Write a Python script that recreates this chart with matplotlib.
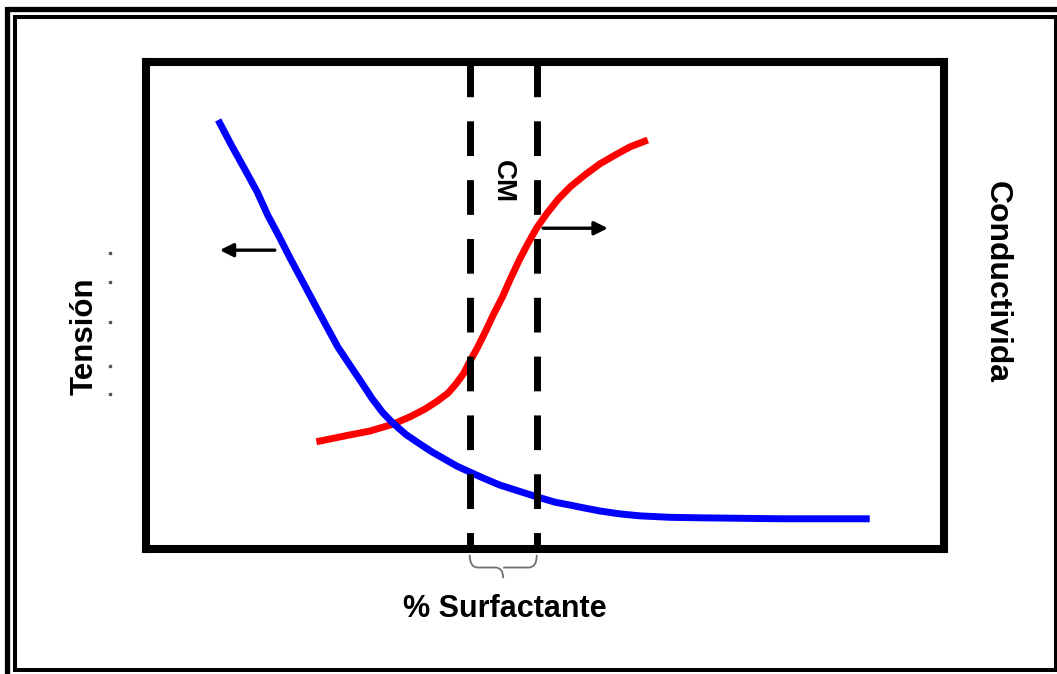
import matplotlib
matplotlib.use("Agg")
import matplotlib.pyplot as plt
from matplotlib.patches import Rectangle, PathPatch
from matplotlib.path import Path

# data (arbitrary units, 0-100 on both axes)
blue_x = [9.1, 10.8, 12.5, 14.0, 15.3, 16.7, 18.1, 19.5, 20.9, 22.5,
          24.1, 25.6, 27.0, 28.4, 29.7, 31.0, 32.6, 34.4, 35.9, 37.5,
          39.0, 40.6, 42.5, 44.4, 46.7, 49.0, 51.3, 53.2, 55.0, 56.9,
          59.4, 61.9, 65.7, 69.4, 79.5, 90.7]
blue_y = [88.0, 82.7, 77.7, 73.2, 68.5, 64.2, 59.7, 55.4, 51.1, 46.2,
          41.4, 37.7, 34.3, 30.8, 28.0, 25.8, 23.5, 21.5, 19.9, 18.4,
          17.0, 15.8, 14.4, 13.1, 11.9, 10.7, 9.6, 9.0, 8.4, 7.8,
          7.2, 6.8, 6.5, 6.4, 6.2, 6.2]

red_x = [21.4, 25.6, 28.1, 31.0, 33.1, 35.0, 36.6, 37.9, 38.9, 39.8,
         40.6, 41.6, 42.6, 43.6, 44.7, 45.7, 46.7, 47.8, 49.0, 50.3,
         51.7, 53.2, 55.0, 56.9, 58.8, 60.7, 62.9]
red_y = [22.0, 23.4, 24.2, 25.6, 27.1, 28.7, 30.4, 32.0, 33.9, 35.9,
         38.4, 41.4, 44.7, 48.2, 51.7, 55.4, 58.9, 62.4, 65.9, 68.9,
         71.8, 74.3, 76.7, 79.0, 80.8, 82.5, 83.9]

cm_lo, cm_hi = 40.6, 49.0
left_arrow = (16.2, 9.3, 61.3)    # x from, x to, y
right_arrow = (49.8, 57.9, 65.8)
tick_dots_y = [60.7, 54.8, 46.6, 37.5, 31.8]

FONT = ["Liberation Sans", "DejaVu Sans"]
W, H = 1057, 674

fig = plt.figure(figsize=(W / 100, H / 100), dpi=100)
fig.patch.set_facecolor("white")

#outer double frame (pixel positions turned into figure fractions)
def frame(x0, y0, x1, y1, lw):
    r = Rectangle((x0 / W, 1 - y1 / H), (x1 - x0) / W, (y1 - y0) / H,
                  transform=fig.transFigure, fill=False, edgecolor="black",
                  linewidth=lw, joinstyle="miter")
    fig.add_artist(r)

frame(6.5, 9, 1075, 690, 3.8)
frame(15, 17, 1055.5, 670, 2.9)

ax = fig.add_axes([145.5 / W, 1 - 549 / H, (944 - 145.5) / W, (549 - 61.5) / H])
ax.set_xlim(0, 100)
ax.set_ylim(0, 100)
ax.set_xticks([])
ax.set_yticks([])
for s in ax.spines.values():
    s.set_linewidth(5.8)
    s.set_color("black")
    s.set_zorder(5)

ax.plot(blue_x, blue_y, color="#0000ff", lw=5, solid_capstyle="butt",
        solid_joinstyle="round", zorder=3)
ax.plot(red_x, red_y, color="#ff0000", lw=5, solid_capstyle="butt",
        solid_joinstyle="round", zorder=2)

for xc in (cm_lo, cm_hi):
    ax.plot([xc, xc], [100, 0], color="black", lw=5, dashes=(5.0, 3.47),
            zorder=4)

# brace under the CMC band
mid = (cm_lo + cm_hi) / 2
verts = [(cm_lo, -1.2), (cm_lo, -3.8), (cm_lo + 1, -3.8), (mid - 1, -3.8),
         (mid, -3.8), (mid, -6.0),
         (mid, -3.8), (mid + 1, -3.8),
         (cm_hi - 1, -3.8), (cm_hi, -3.8), (cm_hi, -1.2)]
codes = [Path.MOVETO, Path.CURVE3, Path.CURVE3, Path.LINETO,
         Path.CURVE3, Path.CURVE3,
         Path.MOVETO, Path.LINETO,
         Path.LINETO, Path.CURVE3, Path.CURVE3]
ax.add_patch(PathPatch(Path(verts, codes), fill=False, edgecolor="#707070",
                       lw=1.3, clip_on=False))

for (x0, x1, y) in (left_arrow, right_arrow):
    ax.annotate("", xy=(x1, y), xytext=(x0, y),
                arrowprops=dict(arrowstyle="-|>", color="black", lw=2.4,
                                mutation_scale=20, shrinkA=0, shrinkB=0))

ax.plot([-4.45] * len(tick_dots_y), tick_dots_y, "s", color="#555555",
        markersize=1.6, clip_on=False)

ax.text(mid, 75.3, "CM", rotation=-90, ha="center", va="center",
        fontsize=20, fontweight="bold", family=FONT)

fig.text(85 / W, 1 - 336 / H, "Tensión", rotation=90, ha="center",
         va="center", fontsize=22.5, fontweight="bold", family=FONT)
fig.text(997 / W, 1 - 282 / H, "Conductivida", rotation=-90, ha="center",
         va="center", fontsize=23, fontweight="bold", family=FONT)
fig.text(505 / W, 1 - 609 / H, "% Surfactante", ha="center", va="center",
         fontsize=22, fontweight="bold", family=FONT)

fig.savefig("out.png", dpi=100)
